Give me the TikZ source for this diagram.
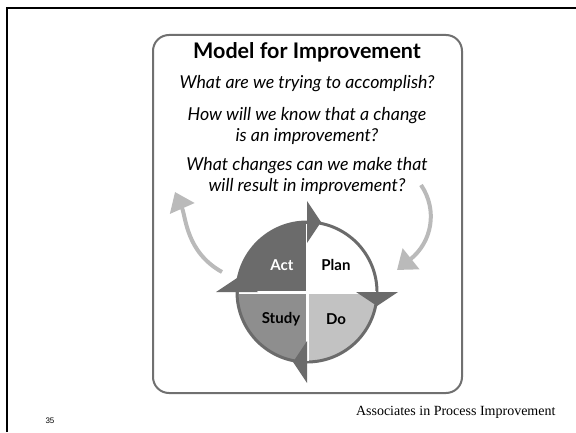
\documentclass[tikz,border=0pt]{standalone}
\usepackage{fontspec}
\usepackage{xcolor}
\usepackage{tikz}
\usetikzlibrary{calc,arrows.meta}
\setmainfont{Lato}
\newfontfamily\footfont{Liberation Serif}
\newfontfamily\numfont{Liberation Sans}

\definecolor{ringgray}{HTML}{6B6B6B}
\definecolor{studygray}{HTML}{8E8E8E}
\definecolor{dogray}{HTML}{C2C2C2}
\definecolor{loopgray}{HTML}{BABABA}
\definecolor{framegray}{HTML}{707070}

\tikzset{
    question/.style={font=\fontsize{17.8}{21}\selectfont\itshape, align=center},
    phase/.style={font=\fontsize{15}{18}\selectfont\bfseries},
    loop/.style={loopgray, line width=4pt, -{Triangle[width=26pt,length=18pt]}},
}

\begin{document}
\begin{tikzpicture}[x=1pt, y=1pt]
            \useasboundingbox (0, 0) rectangle (576, 432);
            % slide frame
            \draw[line width=2pt] (6.5, 0) -- (6.5, 423.5) -- (576, 423.5);
            \draw[framegray, line width=2pt, rounded corners=16pt] (153, 39) rectangle (462, 397);

            % the three questions
            \node[font=\fontsize{21.5}{24}\selectfont\bfseries] (title) at (307, 380) {Model for Improvement};
            \node[question] (q1) at (307, 348) {What are we trying to accomplish?};
            \node[question] (q2) at (307, 306.5) {How will we know that a change\\is an improvement?};
            \node[question] (q3) at (307, 256.5) {What changes can we make that\\will result in improvement?};

            % PDSA wheel
            \coordinate (c) at (307, 140);
            \fill[ringgray] (c) -- ++(90:70) arc (90:180:70) -- cycle;
            \fill[white] (c) -- ++(0:70) arc (0:90:70) -- cycle;
            \fill[dogray] (c) -- ++(-90:70) arc (-90:0:70) -- cycle;
            \fill[studygray] (c) -- ++(180:70) arc (180:270:70) -- cycle;
            \draw[ringgray, line width=3pt] (c) circle (70);
            \draw[white, line width=3pt] ($(c)+(-68.5,0)$) -- ($(c)+(68.5,0)$);
            \draw[white, line width=3pt] ($(c)+(0,-68.5)$) -- ($(c)+(0,68.5)$);
            \foreach \a in {90, 0, -90, 180} {
                \fill[ringgray] ($(c)+(\a:49)$) -- ($(c)+(\a:91)$) -- ($(c)+(\a:70)+(\a-90:14)$) -- cycle;
            }
            \node[phase, white] (act) at (282, 167) {Act};
            \node[phase] (plan) at (336, 167) {Plan};
            \node[phase] (study) at (281, 113) {Study};
            \node[phase] (do) at (336, 113) {Do};

            % loops between the wheel and the questions
            \coordinate (actout) at (222, 160);
            \coordinate (actin) at (175, 240);
            \coordinate (planout) at (421, 247);
            \coordinate (planin) at (397, 162);
            \draw[loop] (actout) .. controls (186, 180) and (186, 215) .. (actin);
            \draw[loop] (planout) .. controls (438, 222) and (432, 190) .. (planin);

            \node[font=\footfont\fontsize{14}{16}\selectfont, anchor=east] (credit) at (559, 20) {Associates in Process Improvement};
            \node[font=\numfont\fontsize{8}{10}\selectfont] (page) at (50, 11) {35};
        \end{tikzpicture}
\end{document}
